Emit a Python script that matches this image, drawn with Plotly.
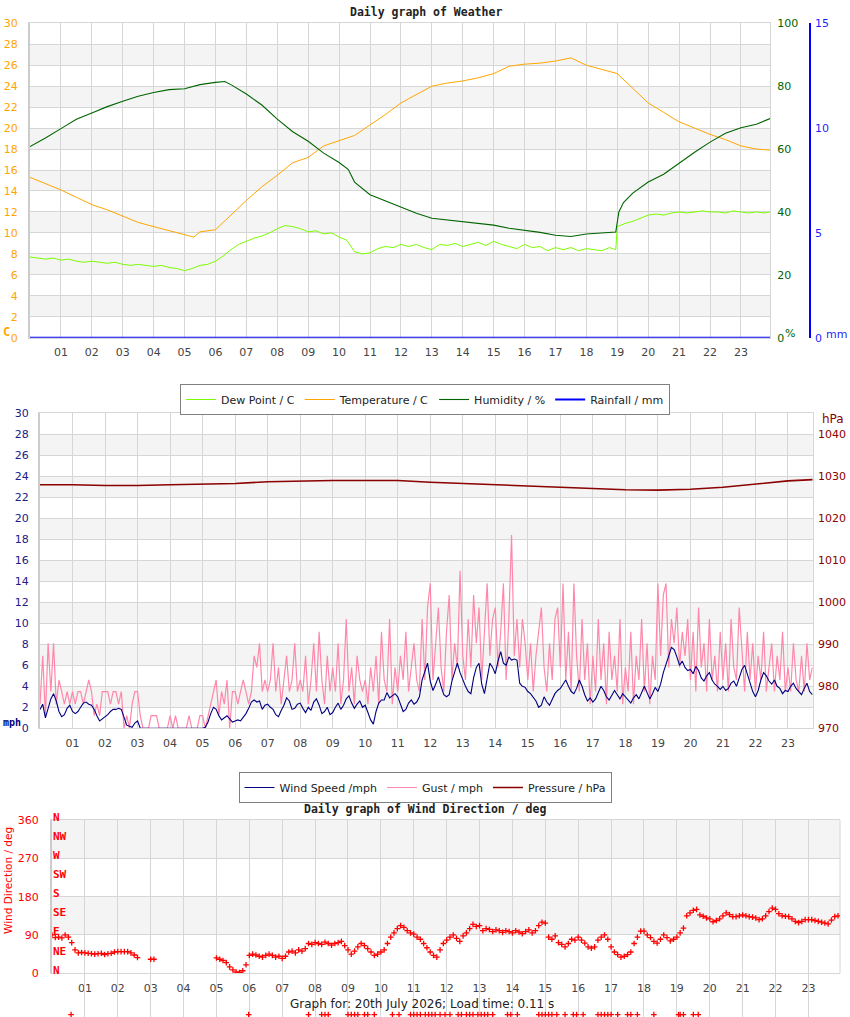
import plotly.graph_objects as go

W, H = 850, 1017


def px_x(x):
    return x / W


def px_y(y):
    return 1 - y / H


# ---------------- data: top chart (weather) ----------------
hour_ticks = list(range(1, 24))
hour_labels = [f"{h:02d}" for h in hour_ticks]

temp_hours = [0, 0.5, 1, 1.5, 2, 2.5, 3, 3.5, 4, 4.5, 5, 5.3, 5.5, 6, 6.5, 7, 7.5, 8, 8.5, 9,
              9.5, 10, 10.5, 11, 11.5, 12, 12.5, 13, 13.5, 14, 14.5, 15, 15.5, 16, 16.5, 17,
              17.5, 18, 18.5, 19, 19.5, 20, 20.5, 21, 21.5, 22, 22.5, 23, 23.5, 23.94]
temp_c = [15.3, 14.7, 14.1, 13.4, 12.7, 12.2, 11.6, 11.0, 10.6, 10.2, 9.8, 9.6, 10.1, 10.3, 11.7,
          13.1, 14.4, 15.5, 16.7, 17.2, 18.3, 18.8, 19.3, 20.3, 21.3, 22.4, 23.2, 24.0, 24.3,
          24.5, 24.8, 25.2, 25.9, 26.1, 26.2, 26.4, 26.7, 26.0, 25.6, 25.2, 23.8, 22.4, 21.5,
          20.6, 20.0, 19.4, 18.9, 18.3, 18.0, 17.9]

dew_hours = [i * 0.25 for i in range(76)] + [18.95, 19.0] + [19.25 + i * 0.25 for i in range(19)] + [23.94]
dew_c = [7.7, 7.6, 7.5, 7.6, 7.4, 7.5, 7.3, 7.2, 7.3, 7.2, 7.1, 7.2, 7.0, 6.9, 7.0, 6.9,
         6.8, 6.9, 6.7, 6.6, 6.4, 6.6, 6.9, 7.0, 7.3, 7.8, 8.4, 8.9, 9.2, 9.5, 9.7, 10.0,
         10.4, 10.7, 10.6, 10.4, 10.1, 10.2, 9.9, 10.0, 9.6, 9.3, 8.2, 8.0, 8.1, 8.5, 8.7, 8.6,
         8.9, 8.7, 8.9, 8.6, 8.4, 8.9, 8.8, 9.0, 8.7, 8.9, 9.1, 8.8, 9.2, 8.9, 8.7, 8.5,
         8.9, 8.6, 8.7, 8.3, 8.6, 8.4, 8.6, 8.3, 8.5, 8.4, 8.3, 8.6,
         8.4, 10.6,
         10.9, 11.1, 11.4, 11.7, 11.8, 11.7, 11.9, 12.0, 11.9, 12.0, 12.1, 12.0, 12.0, 11.9,
         12.1, 12.0, 11.9, 12.0, 11.9, 12.0]

hum_hours = [0, 0.5, 1, 1.5, 2, 2.5, 3, 3.5, 4, 4.5, 5, 5.5, 6, 6.3, 6.5, 7, 7.5, 8, 8.5, 9,
             9.5, 10, 10.3, 10.5, 11, 11.5, 12, 12.5, 13, 13.5, 14, 14.5, 15, 15.5, 16, 16.5,
             17, 17.5, 18, 18.5, 18.95, 19.05, 19.2, 19.5, 20, 20.5, 21, 21.5, 22, 22.5, 23,
             23.5, 23.94]
hum_pct = [60.8, 63.5, 66.5, 69.5, 71.5, 73.5, 75.2, 76.8, 78.0, 78.9, 79.2, 80.5, 81.2, 81.5,
           80.5, 77.5, 74.0, 69.5, 65.5, 62.5, 58.7, 55.7, 53.5, 49.5, 45.5, 43.5, 41.4, 39.6,
           38.0, 37.5, 37.0, 36.3, 35.8, 34.8, 34.2, 33.5, 32.6, 32.2, 33.0, 33.4, 33.6, 40.0,
           43.0, 46.0, 49.5, 52.0, 55.5, 59.0, 62.2, 65.0, 66.8, 67.9, 69.7]

rain_hours = [0, 23.94]
rain_mm = [0, 0]

# ---------------- data: middle chart (wind / pressure) ----------------
gust_mph = [
    2.3, 6.9, 1.2, 8.1, 3.5, 8.1, 2.3, 4.6, 3.5, 2.3, 3.5, 2.3,
    3.5, 2.3, 3.5, 3.5, 2.3, 3.5, 4.6, 3.5, 1.2, 2.3, 1.2, 3.5,
    3.5, 3.5, 2.3, 3.5, 3.5, 2.3, 3.5, 0.0, 1.2, 0.0, 2.3, 3.5,
    3.5, 1.2, 0.0, 0.0, 0.0, 1.2, 1.2, 1.2, 0.0, 0.0, 0.0, 0.0,
    1.2, 0.0, 1.2, 0.0, 0.0, 0.0, 0.0, 1.2, 0.0, 0.0, 0.0, 1.2,
    1.2, 0.0, 1.2, 2.3, 3.5, 4.6, 1.2, 3.5, 2.3, 4.6, 0.0, 3.5,
    3.5, 2.3, 3.5, 4.6, 3.5, 2.3, 3.5, 6.9, 5.8, 8.1, 3.5, 4.6,
    3.5, 4.6, 8.1, 3.5, 5.8, 2.3, 4.6, 6.9, 3.5, 4.6, 8.1, 3.5,
    4.6, 3.5, 6.9, 2.3, 4.6, 8.1, 3.5, 9.2, 4.6, 2.3, 6.9, 3.5,
    5.8, 3.5, 8.1, 2.3, 4.6, 10.4, 3.5, 5.8, 2.3, 6.9, 4.6, 3.5,
    4.6, 2.3, 5.8, 3.5, 6.9, 2.3, 9.2, 4.6, 3.5, 10.4, 2.3, 5.8,
    3.5, 6.9, 4.6, 9.2, 3.5, 5.8, 8.1, 4.6, 3.5, 10.4, 4.6, 11.5,
    13.8, 4.6, 8.1, 11.5, 5.8, 3.5, 9.2, 12.7, 4.6, 8.1, 5.8, 15.0,
    6.9, 4.6, 10.4, 5.8, 12.7, 8.1, 11.5, 4.6, 9.2, 13.8, 6.9, 10.4,
    11.5, 5.8, 9.2, 13.8, 4.6, 10.4, 18.4, 6.9, 10.4, 5.8, 10.4, 8.1,
    4.6, 8.1, 3.5, 6.9, 9.2, 11.5, 5.8, 3.5, 8.1, 4.6, 10.4, 11.5,
    5.8, 13.8, 4.6, 9.2, 3.5, 13.8, 6.9, 3.5, 10.4, 4.6, 8.1, 2.3,
    6.9, 3.5, 10.4, 4.6, 8.1, 2.3, 9.2, 4.6, 6.9, 3.5, 10.4, 2.3,
    5.8, 3.5, 9.2, 2.3, 6.9, 4.6, 10.4, 3.5, 8.1, 2.3, 6.9, 4.6,
    13.8, 6.9, 12.7, 13.8, 5.8, 10.4, 8.1, 11.5, 5.8, 9.2, 6.9, 10.4,
    4.6, 9.2, 3.5, 11.5, 5.8, 8.1, 3.5, 10.4, 4.6, 6.9, 3.5, 9.2,
    4.6, 8.1, 3.5, 10.4, 5.8, 4.6, 11.5, 6.9, 3.5, 9.2, 4.6, 8.1,
    3.5, 6.9, 4.6, 9.2, 3.5, 5.8, 8.1, 3.5, 6.9, 4.6, 9.2, 3.5,
    5.8, 3.5, 8.1, 4.6, 3.5, 6.9, 3.5, 8.1, 4.6, 5.8,
]

wind_mph = [
    1.8, 2.3, 1.0, 2.0, 2.8, 3.3, 2.6, 1.6, 1.1, 1.3, 1.9, 2.2,
    1.6, 1.4, 1.6, 2.0, 2.4, 2.5, 2.3, 2.2, 1.8, 1.2, 0.7, 0.9,
    1.1, 1.3, 1.6, 1.8, 1.8, 1.9, 1.8, 1.0, 0.3, 0.2, 0.1, 0.5,
    0.7, 0.0, 0.0, 0.0, 0.0, 0.0, 0.0, 0.0, 0.0, 0.0, 0.0, 0.0,
    0.0, 0.0, 0.0, 0.0, 0.0, 0.0, 0.0, 0.0, 0.0, 0.0, 0.0, 0.0,
    0.0, 0.1, 0.6, 1.4, 2.0, 1.8, 1.2, 0.8, 1.0, 1.2, 0.9, 0.6,
    0.7, 0.8, 0.7, 1.0, 1.4, 1.9, 2.5, 2.7, 2.5, 2.6, 1.8, 2.2,
    2.3, 2.0, 1.8, 1.3, 1.1, 1.7, 2.2, 2.9, 2.6, 1.8, 1.9, 2.3,
    2.4, 1.9, 1.5, 2.0, 1.7, 2.5, 2.8, 2.2, 1.4, 1.6, 2.0, 1.3,
    1.5, 2.0, 2.4, 1.8, 2.2, 2.8, 3.1, 2.4, 1.9, 2.3, 2.6, 2.0,
    2.2, 1.5, 0.8, 0.4, 1.6, 2.4, 2.7, 2.7, 3.4, 2.9, 3.1, 3.3,
    3.0, 2.2, 1.6, 1.8, 2.4, 2.7, 2.3, 2.5, 3.0, 4.6, 5.3, 6.2,
    4.5, 3.6, 4.2, 4.9, 4.0, 3.2, 3.0, 3.2, 4.5, 5.4, 6.2, 5.3,
    4.6, 4.0, 3.5, 3.3, 4.8, 5.8, 6.2, 4.2, 3.3, 4.6, 6.2, 5.8,
    5.2, 6.4, 7.3, 6.2, 6.0, 6.8, 6.5, 6.6, 6.5, 4.3, 4.0, 3.9,
    3.5, 3.3, 3.0, 2.6, 2.0, 2.2, 3.0, 2.5, 2.2, 2.8, 3.3, 3.6,
    3.8, 4.2, 4.6, 4.0, 3.5, 3.3, 3.8, 4.6, 4.0, 3.2, 2.6, 2.9,
    2.5, 2.8, 3.4, 4.0, 3.6, 3.0, 2.7, 3.1, 3.6, 3.2, 2.8, 3.3,
    3.0, 2.6, 2.4, 2.9, 3.2, 2.8, 3.5, 4.0, 3.4, 2.8, 3.3, 3.9,
    3.5, 4.2, 5.3, 6.0, 6.9, 7.7, 7.5, 6.8, 6.0, 6.4, 5.8, 5.5,
    5.6, 5.2, 5.9, 5.5, 4.8, 4.5, 5.0, 5.3, 4.6, 4.2, 4.0, 3.7,
    4.0, 3.6, 3.8, 4.3, 4.5, 4.0, 4.8, 5.6, 6.0, 5.2, 4.2, 3.5,
    3.0, 3.6, 4.6, 5.3, 5.0, 4.5, 4.2, 4.6, 4.0, 3.8, 3.3, 3.6,
    3.5, 4.0, 4.3, 3.8, 3.5, 3.2, 3.8, 4.3, 3.5, 3.2,
]
wind_hours = [i / 12 for i in range(len(wind_mph))]

pressure_hours = list(range(24)) + [23.76]
pressure_hpa = [1028.0, 1028.0, 1027.8, 1027.8, 1028.0, 1028.1, 1028.3, 1028.7, 1028.9, 1029.0,
                1029.0, 1029.0, 1028.6, 1028.3, 1028.0, 1027.7, 1027.4, 1027.1, 1026.8, 1026.7,
                1026.9, 1027.4, 1028.2, 1028.9, 1029.2]

# ---------------- data: bottom chart (wind direction) ----------------
N_ = None
dir_deg = [
    90, 84, 85, 83, 90, 85, 72, 55, 48, 49,
    48, 47, 46, 45, 46, 47, 44, 46, 47, 50,
    51, 51, 51, 51, 48, 43, 37, N_, N_, N_,
    33, 33, N_, N_, N_, N_, N_, N_, N_, N_,
    N_, N_, N_, N_, N_, N_, N_, N_, N_, N_,
    36, 33, 30, 25, 15, 8, 3, 2, 6, 20,
    42, 45, 43, 40, 38, 42, 45, 42, 38, 40,
    35, 40, 50, 52, 48, 55, 52, 58, 70, 68,
    72, 70, 68, 73, 70, 66, 70, 72, 75, 65,
    55, 45, 52, 62, 70, 65, 58, 50, 42, 45,
    50, 55, 70, 85, 95, 105, 112, 108, 100, 95,
    92, 85, 80, 70, 60, 50, 42, 38, 55, 70,
    78, 85, 90, 82, 75, 88, 95, 105, 115, 110,
    112, 100, 105, 103, 98, 102, 100, 96, 100, 98,
    95, 100, 97, 93, 98, 102, 95, 100, 112, 120,
    118, 85, 80, 88, 72, 68, 62, 70, 80, 78,
    85, 78, 71, 62, 59, 62, 78, 85, 90, 80,
    62, 50, 44, 38, 40, 44, 50, 70, 85, 99,
    99, 90, 84, 75, 71, 80, 90, 84, 76, 80,
    85, 95, 106, 135, 142, 148, 150, 137, 134, 130,
    128, 121, 124, 128, 135, 142, 138, 133, 133, 135,
    137, 135, 133, 132, 130, 126, 128, 135, 145, 153,
    150, 140, 135, 134, 133, 128, 122, 119, 122, 126,
    126, 126, 124, 122, 120, 118, 116, 125, 133, 135,
]
dir_hours = [i / 10 for i in range(len(dir_deg))]

# readings drawn below the scale (calm periods) in the original
offscale_hours = [0.58, 5.98, 7.8, 8.2, 8.3, 8.4, 9.0, 9.1, 9.2, 9.3, 9.5, 9.6, 9.8, 10.35,
                  10.55, 10.9, 11.0, 11.1, 11.2, 11.35, 11.45, 11.55, 11.65, 11.8, 11.95, 12.1,
                  12.35, 12.45, 12.6, 12.7, 12.8, 12.95, 13.05, 13.15, 13.25, 13.4, 13.85,
                  13.95, 14.15, 14.8, 14.9, 15.0, 15.1, 15.2, 15.35, 15.6, 15.85, 15.95, 16.15,
                  16.6, 16.7, 16.8, 16.9, 17.0, 17.2, 17.5, 17.6, 17.8, 18.3, 19.05, 19.1,
                  19.2, 19.5, 19.65]
offscale_deg = [-97] * len(offscale_hours)

compass_labels = ["N", "NE", "E", "SE", "S", "SW", "W", "NW", "N"]
compass_deg = [0, 45, 90, 135, 180, 225, 270, 315, 360]

# ---------------- figure ----------------
SANS = "DejaVu Sans"
MONO = "DejaVu Sans Mono"
GRID = "#d6d6d6"
BAND = "#f4f4f4"

# bottom chart geometry (pixels) and the degree scale continued below it
BOT_TOP, BOT_BOTTOM = 820.0, 973.3
DEG_PER_PX = 360.0 / (BOT_BOTTOM - BOT_TOP)
below_range = [-(H - BOT_BOTTOM) * DEG_PER_PX, 0]

fig = go.Figure()

# top chart traces
fig.add_trace(go.Scatter(x=dew_hours, y=dew_c, name="Dew Point / C", mode="lines",
                         line=dict(color="#7CFC00", width=1), xaxis="x", yaxis="y",
                         legend="legend"))
fig.add_trace(go.Scatter(x=temp_hours, y=temp_c, name="Temperature / C", mode="lines",
                         line=dict(color="#FFA500", width=1), xaxis="x", yaxis="y",
                         legend="legend"))
fig.add_trace(go.Scatter(x=hum_hours, y=hum_pct, name="Humidity / %", mode="lines",
                         line=dict(color="#006400", width=1.1), xaxis="x", yaxis="y2",
                         legend="legend"))
fig.add_trace(go.Scatter(x=rain_hours, y=rain_mm, name="Rainfall / mm", mode="lines",
                         line=dict(color="#0000FF", width=2), xaxis="x", yaxis="y3",
                         legend="legend", cliponaxis=False))

# middle chart traces
fig.add_trace(go.Scatter(x=wind_hours, y=gust_mph, name="Gust / mph", mode="lines",
                         line=dict(color="#FF88AA", width=1.2), xaxis="x2", yaxis="y4",
                         legend="legend2", legendrank=2))
fig.add_trace(go.Scatter(x=wind_hours, y=wind_mph, name="Wind Speed /mph", mode="lines",
                         line=dict(color="#000080", width=1.1), xaxis="x2", yaxis="y4",
                         legend="legend2", legendrank=1))
fig.add_trace(go.Scatter(x=pressure_hours, y=pressure_hpa, name="Pressure / hPa", mode="lines",
                         line=dict(color="#8B0000", width=1.6), xaxis="x2", yaxis="y5",
                         legend="legend2", legendrank=3))

# bottom chart traces
cross = dict(symbol="cross-thin", size=4, color="#FF0000", line=dict(width=1.3, color="#FF0000"))
fig.add_trace(go.Scatter(x=dir_hours, y=dir_deg, mode="markers", marker=cross,
                         xaxis="x3", yaxis="y6", showlegend=False))
fig.add_trace(go.Scatter(x=offscale_hours, y=offscale_deg, mode="markers", marker=cross,
                         xaxis="x3", yaxis="y7", showlegend=False))

xcommon = dict(tickvals=hour_ticks, ticktext=hour_labels, showgrid=True, gridcolor=GRID,
               gridwidth=1, zeroline=False, showline=True, mirror=True, linecolor=GRID,
               linewidth=1, ticks="", tickfont=dict(family=SANS, size=11, color="#444"),
               ticklabelstandoff=4, fixedrange=True, automargin=False)


def ycommon(color, standoff, **kw):
    d = dict(showgrid=True, gridcolor=GRID, gridwidth=1, zeroline=False, showline=True,
             linecolor="#cccccc", linewidth=2, ticks="", automargin=False,
             tickfont=dict(family=SANS, size=11, color=color), ticklabelstandoff=standoff)
    d.update(kw)
    return d


fig.update_layout(
    width=W, height=H, autosize=False,
    margin=dict(l=0, r=0, t=0, b=0, pad=0, autoexpand=False),
    paper_bgcolor="white", plot_bgcolor="white",
    font=dict(family=SANS, size=11, color="#222"),
    xaxis=dict(xcommon, domain=[px_x(30), px_x(770)], range=[0, 23.94], anchor="y"),
    yaxis=ycommon("#FFA500", 8, domain=[px_y(337.7), px_y(23.3)], range=[0, 30], dtick=2,
                  anchor="x"),
    yaxis2=dict(overlaying="y", side="right", anchor="x", range=[0, 100], dtick=20,
                showgrid=False, zeroline=False, showline=True, linecolor=GRID, linewidth=1,
                ticks="", tickfont=dict(family=SANS, size=11, color="#006400"),
                ticklabelstandoff=4, automargin=False),
    yaxis3=dict(overlaying="y", side="right", anchor="free", position=px_x(810),
                range=[0, 15], dtick=5, showgrid=False, zeroline=False, showline=True,
                linecolor="#0000FF", linewidth=1.5, ticks="", automargin=False,
                tickfont=dict(family=SANS, size=11, color="#1f1fff"), ticklabelstandoff=2),
    xaxis2=dict(xcommon, domain=[px_x(40), px_x(812.7)], range=[0, 23.76], anchor="y4"),
    yaxis4=ycommon("#20208a", 7, domain=[px_y(728.3), px_y(413.3)], range=[0, 30], dtick=2,
                   anchor="x2"),
    yaxis5=dict(overlaying="y4", side="right", anchor="x2", range=[970, 1045], dtick=10,
                showgrid=False, zeroline=False, showline=True, linecolor=GRID, linewidth=1,
                ticks="", tickfont=dict(family=SANS, size=11, color="#8B0000"),
                ticklabelstandoff=2, automargin=False),
    xaxis3=dict(xcommon, domain=[px_x(52), px_x(840)], range=[0, 23.96], anchor="y6"),
    yaxis6=ycommon("#FF0000", 9, domain=[px_y(BOT_BOTTOM), px_y(BOT_TOP)], range=[0, 360],
                   tickvals=[0, 90, 180, 270, 360], anchor="x3"),
    yaxis7=dict(domain=[0, px_y(BOT_BOTTOM)], range=below_range, anchor="x3", visible=False,
                showgrid=False, zeroline=False, automargin=False),
    legend=dict(orientation="h", x=0.5, xanchor="center", y=px_y(384), yanchor="top",
                bordercolor="#808080", borderwidth=1, bgcolor="white",
                font=dict(family=SANS, size=11, color="#222"), itemwidth=30),
    legend2=dict(orientation="h", x=0.5, xanchor="center", y=px_y(772), yanchor="top",
                 bordercolor="#808080", borderwidth=1, bgcolor="white",
                 font=dict(family=SANS, size=11, color="#222"), itemwidth=30),
)

# alternating grey bands
shapes = []
for k in range(2, 28, 4):
    shapes.append(dict(type="rect", xref="x domain", yref="y", x0=0, x1=1, y0=k, y1=k + 2,
                       fillcolor=BAND, line=dict(width=0), layer="below"))
    shapes.append(dict(type="rect", xref="x2 domain", yref="y4", x0=0, x1=1, y0=k, y1=k + 2,
                       fillcolor=BAND, line=dict(width=0), layer="below"))
for k in (90, 270):
    shapes.append(dict(type="rect", xref="x3 domain", yref="y6", x0=0, x1=1, y0=k, y1=k + 90,
                       fillcolor=BAND, line=dict(width=0), layer="below"))
# right border of bottom chart
shapes.append(dict(type="line", xref="x3 domain", yref="y6 domain", x0=1, x1=1, y0=0, y1=1,
                   line=dict(color=GRID, width=1), layer="below"))
fig.update_layout(shapes=shapes)

ann = []


def note(text, x, y, color, size=11, family=SANS, xanchor="center", **kw):
    ann.append(dict(text=text, x=px_x(x), y=px_y(y), xref="paper", yref="paper",
                    showarrow=False, xanchor=xanchor, yanchor="middle",
                    font=dict(family=family, size=size, color=color), **kw))


note("<b>Daily graph of Weather</b>", 425.5, 12, "#222", size=11.5, family=MONO)
note("<b>Daily graph of Wind Direction / deg</b>", 425, 809, "#222", size=11.5, family=MONO)
note("<b>C</b>", 6, 332, "#FFA500", size=12, family=MONO)
note("%", 790, 333, "#006400", size=11)
note("mm", 836, 334, "#1f1fff", size=11)
note("<b>mph</b>", 12, 722, "#000080", size=10, family=MONO)
note("hPa", 833, 419, "#8B0000", size=12)
note("Wind Direction / deg", 8, 881, "#FF0000", size=10.5, textangle=-90)
note("Graph for: 20th July 2026; Load time: 0.11 s", 421.7, 1004, "#222", size=12)

for lab, deg in zip(compass_labels, compass_deg):
    ann.append(dict(text=f"<b>{lab}</b>", x=0, y=deg, xref="x3 domain", yref="y6",
                    showarrow=False, xanchor="left", yanchor="middle", yshift=3, xshift=-1,
                    font=dict(family=MONO, size=11, color="#FF0000")))

fig.update_layout(annotations=ann)

fig.write_html("out.html")
